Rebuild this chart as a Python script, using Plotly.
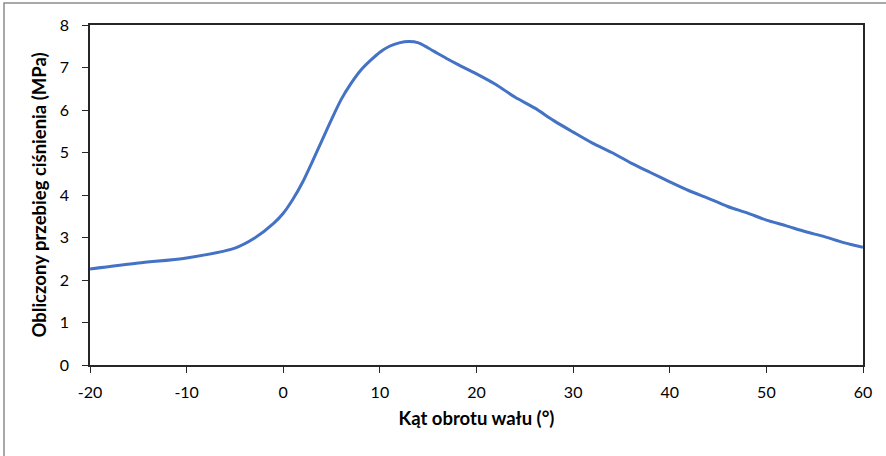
import plotly.graph_objects as go

angle = [-20, -15, -10, -5, -3, -1, 0, 1, 2, 3, 4, 5, 6, 7, 8, 9, 10, 11, 12, 13, 14, 15, 16, 17, 18,
         20, 22, 24, 26, 28, 30, 32, 34, 36, 38, 40, 42, 44, 46, 48, 50, 52, 54, 56, 58, 60]
pressure = [2.26, 2.40, 2.52, 2.75, 2.98, 3.33, 3.57, 3.9, 4.3, 4.78, 5.28, 5.78, 6.25, 6.62, 6.93, 7.16,
            7.36, 7.5, 7.58, 7.61, 7.58, 7.46, 7.33, 7.2, 7.08,
            6.85, 6.6, 6.3, 6.05, 5.75, 5.48, 5.22, 5.0, 4.75, 4.53, 4.31, 4.1, 3.92, 3.73, 3.58,
            3.41, 3.28, 3.14, 3.02, 2.88, 2.77]

x_ticks = [-20, -10, 0, 10, 20, 30, 40, 50, 60]
x_tick_text = ["-20", "-10", "0", "10", "20", "30", "40", "50", "60"]
y_ticks = [0, 1, 2, 3, 4, 5, 6, 7, 8]

FONT = "Lato"

fig = go.Figure()
fig.add_trace(go.Scatter(x=angle, y=pressure, mode="lines",
                         line=dict(color="#4472C4", width=3, shape="spline", smoothing=0.8),
                         showlegend=False))

axis_common = dict(showline=True, linecolor="#262626", linewidth=1.5, mirror=True,
                   ticks="outside", ticklen=6, tickcolor="#262626", tickwidth=1,
                   showgrid=False, zeroline=False,
                   tickfont=dict(family=FONT, size=16, color="#000000"))

fig.update_layout(
    width=886, height=456,
    margin=dict(l=90, r=23, t=25, b=91),
    paper_bgcolor="white", plot_bgcolor="white",
    xaxis=dict(range=[-20, 60], tickvals=x_ticks, ticktext=x_tick_text, ticklabelstandoff=6,
               title=dict(text="<b>Kąt obrotu wału (°)</b>", font=dict(family=FONT, size=18.5, color="#000"), standoff=12),
               **axis_common),
    yaxis=dict(range=[0, 8], tickvals=y_ticks, ticklabelstandoff=10,
               title=dict(text="<b>Obliczony przebieg ciśnienia (MPa)</b>", font=dict(family=FONT, size=18.5, color="#000"), standoff=8),
               **axis_common),
    shapes=[dict(type="rect", xref="paper", yref="paper",
                 x0=(4 - 90) / 773, x1=(892 - 90) / 773,
                 y0=(365 - 462) / 340, y1=(365 - 3) / 340,
                 line=dict(color="#8c8c8c", width=1.5), layer="below")],
)

fig.write_html("out.html")
